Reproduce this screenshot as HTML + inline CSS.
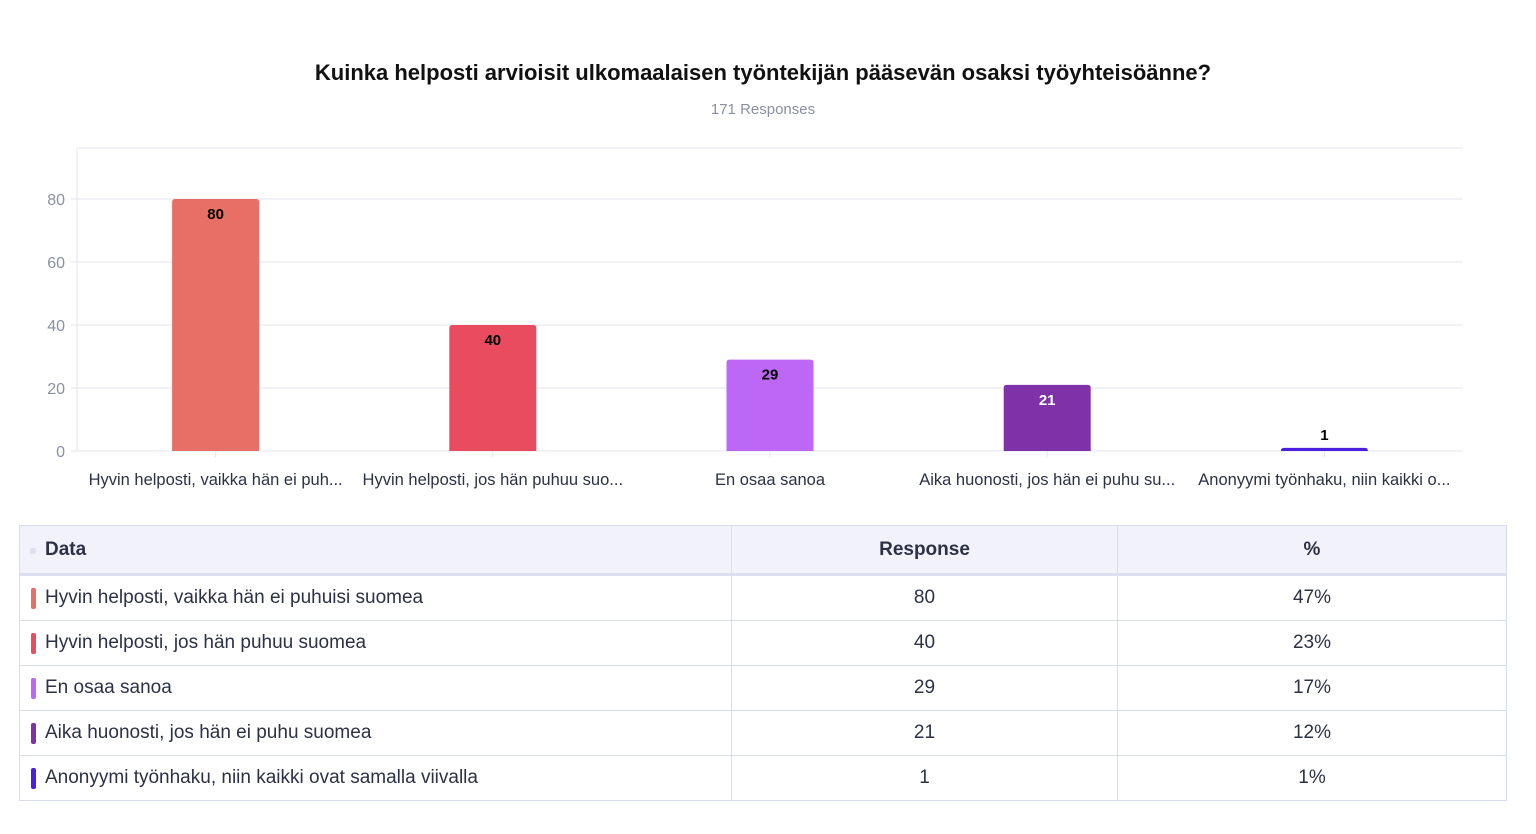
<!DOCTYPE html>
<html><head><meta charset="utf-8"><style>
body{margin:0;width:1536px;height:834px;background:#fff;font-family:"Liberation Sans",sans-serif;overflow:hidden;position:relative}
#title{position:absolute;top:60px;left:0;width:1526px;text-align:center;font-weight:bold;font-size:22px;color:#111}
#sub{position:absolute;top:101px;left:0;width:1526px;text-align:center;font-size:15px;color:#8a8fa3}
svg{position:absolute;left:0;top:0}
table{position:absolute;left:19px;top:525px;width:1488px;border-collapse:collapse;border:1px solid #d9dcef;font-size:19px;color:#2c3145;table-layout:fixed}
th{background:#f1f2fa;height:47px;padding:0;line-height:20px;font-weight:bold;border-bottom:3px solid #dcdff0;border-right:1px solid #d9dcef}
td{height:44px;padding:0;line-height:20px;border-top:1px solid #d9dcef;border-right:1px solid #d9dcef;text-align:center}
td:first-child,th:first-child{text-align:left;padding-left:25px;position:relative}
.sw{position:absolute;left:11px;top:12px;width:5px;height:21px;border-radius:2px}
</style></head><body>
<div id="title">Kuinka helposti arvioisit ulkomaalaisen työntekijän pääsevän osaksi työyhteisöänne?</div>
<div id="sub">171 Responses</div>
<svg id="chart" width="1536" height="520"></svg>
<table>
<colgroup><col style="width:712px"><col style="width:386px"><col></colgroup>
<tr><th><span class="sw" style="background:#dde0ec;width:6px;height:6px;top:22px;left:10px"></span>Data</th><th>Response</th><th>%</th></tr>
<tbody id="tb"></tbody>
</table>
<script>
const categories=["Hyvin helposti, vaikka hän ei puhuisi suomea","Hyvin helposti, jos hän puhuu suomea","En osaa sanoa","Aika huonosti, jos hän ei puhu suomea","Anonyymi työnhaku, niin kaikki ovat samalla viivalla"];
const shortLabels=["Hyvin helposti, vaikka hän ei puh...","Hyvin helposti, jos hän puhuu suo...","En osaa sanoa","Aika huonosti, jos hän ei puhu su...","Anonyymi työnhaku, niin kaikki o..."];
const values=[80,40,29,21,1];
const percents=["47%","23%","17%","12%","1%"];
const colors=["#E86F65","#E84C5E","#BC67F5","#7F31A8","#4B1EE0"];
const labelColors=["#000","#000","#000","#fff","#000"];
const ticks=[0,20,40,60,80];
const NS="http://www.w3.org/2000/svg";
const svg=document.getElementById('chart');
const x0=77,x1=1463,y0=451,yTop=148;
const y=v=>y0-v*3.15;
const bw=(x1-x0)/categories.length;
function mk(t,a,p){const e=document.createElementNS(NS,t);for(const k in a)e.setAttribute(k,a[k]);(p||svg).appendChild(e);return e;}
mk('line',{x1:x0,x2:x1,y1:yTop,y2:yTop,stroke:'#e3e5f0'});
mk('line',{x1:x0,x2:x0,y1:yTop,y2:y0,stroke:'#e3e5f0'});
ticks.forEach(t=>{
 const l=mk('line',{x1:x0-6,x2:x1,y1:y(t),y2:y(t),stroke:'#e3e5f0'});
 
 
 const tx=mk('text',{x:x0-12,y:y(t)+6,'text-anchor':'end','font-size':16,fill:'#8a8fa3'});
 tx.textContent=t;
 
 
});
values.forEach((v,i)=>{
 const cx=x0+bw*(i+0.5);
 const r=mk('path',{d:`M${cx-43.5},${y0} V${y(v)+3} Q${cx-43.5},${y(v)} ${cx-40.5},${y(v)} H${cx+40.5} Q${cx+43.5},${y(v)} ${cx+43.5},${y(v)+3} V${y0} Z`,fill:colors[i]});
 
 
 const inside=v>5;
 const lt=mk('text',{x:cx,y:inside?y(v)+20:y(v)-8,'text-anchor':'middle','font-size':15,'font-weight':'bold',fill:labelColors[i]});
 lt.textContent=v;
 
 
 mk('line',{x1:cx,x2:cx,y1:y0,y2:y0+6,stroke:'#e3e5f0'});
 const xt=mk('text',{x:cx,y:485,'text-anchor':'middle','font-size':16.5,fill:'#2c3145'});
 xt.textContent=shortLabels[i];
 
 
});
const tb=document.getElementById('tb');
categories.forEach((c,i)=>{
 const tr=document.createElement('tr');
 
 
 tr.innerHTML=`<td><span class="sw" style="background:${colors[i]}"></span>${c}</td><td>${values[i]}</td><td>${percents[i]}</td>`;
 tb.appendChild(tr);
});
</script>
</body></html>
